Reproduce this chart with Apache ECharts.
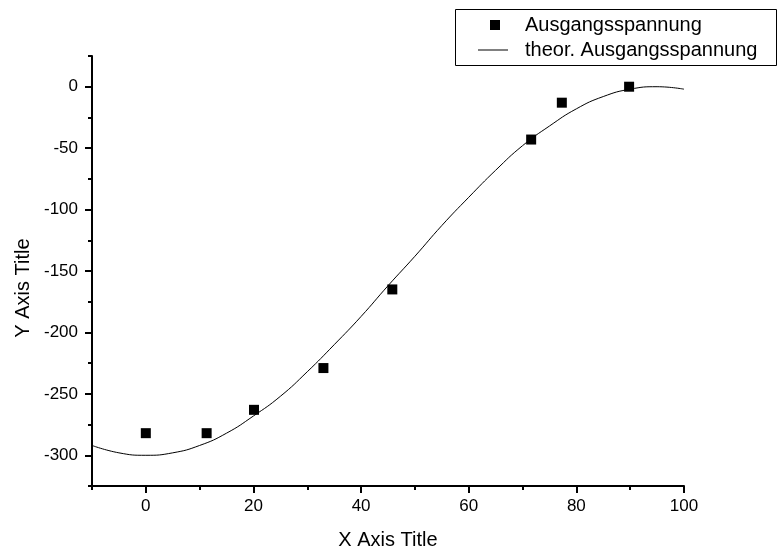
<!DOCTYPE html>
<html>
<head>
<meta charset="utf-8">
<script src="https://cdn.jsdelivr.net/npm/echarts@6/dist/echarts.min.js"></script>
<style>
html,body{margin:0;padding:0;background:#fff;}
#chart{width:781px;height:555px;}
</style>
</head>
<body>
<div id="chart"></div>
<script>
// Measured points
var measX = [0, 11.3, 20.1, 33, 45.8, 71.6, 77.3, 89.8];
var measY = [-282, -282, -263, -229, -165, -43, -13, 0];
// Theoretical curve
var theoX = [-10, -5, 0, 5, 10, 15, 20, 25, 30, 35, 40, 45, 50, 55, 60, 65, 70, 75, 80, 85, 90, 95, 100];
var theoY = [-292, -298, -300, -298, -292, -282, -268, -252, -232, -210, -187, -162, -138, -113, -90, -68, -48, -32, -18, -8, -2, 0, -2];
// Axis ticks
var xMajor = [0, 20, 40, 60, 80, 100];
var xMinor = [-10, 10, 30, 50, 70, 90];
var yMajor = [-300, -250, -200, -150, -100, -50, 0];
var yMinor = [-325, -275, -225, -175, -125, -75, -25, 25];
var seriesNames = ['Ausgangsspannung', 'theor. Ausgangsspannung'];

var FONT = 'Liberation Sans, Arial, Helvetica, sans-serif';
var chart = echarts.init(document.getElementById('chart'));

function pairs(xs, ys) { return xs.map(function (x, i) { return [x, ys[i]]; }); }

var axLine = { show: true, onZero: false, lineStyle: { color: '#000', width: 2 } };

chart.setOption({
  animation: false,
  backgroundColor: '#fff',
  textStyle: { fontFamily: FONT },
  grid: { left: 92, right: 97, top: 56, bottom: 64, containLabel: false },
  legend: [
    {
      data: [{ name: seriesNames[0], icon: 'rect' }],
      left: 490, top: 15, itemWidth: 10, itemHeight: 10, padding: 0,
      selectedMode: false,
      textStyle: { fontSize: 20, color: '#000', fontFamily: FONT, padding: [0, 0, 0, 20] }
    },
    {
      data: [{ name: seriesNames[1], icon: 'rect' }],
      left: 478, top: 40, itemWidth: 30, itemHeight: 1, padding: 0,
      selectedMode: false,
      itemStyle: { color: '#000' },
      textStyle: { fontSize: 20, color: '#000', fontFamily: FONT, padding: [0, 0, 0, 12] }
    }
  ],
  graphic: [{
    type: 'rect', left: 453, top: 7,
    shape: { width: 321, height: 56 },
    style: { fill: 'none', stroke: '#000', lineWidth: 1 }
  }],
  xAxis: [
    {
      type: 'value', min: -10, max: 100, interval: 10,
      axisLine: axLine,
      axisTick: { show: true, customValues: xMajor, length: 7, lineStyle: { color: '#000', width: 2 } },
      axisLabel: { customValues: xMajor, fontSize: 17, color: '#000', margin: 12, fontFamily: FONT },
      splitLine: { show: false },
      name: 'X Axis Title', nameLocation: 'middle', nameGap: 44,
      nameTextStyle: { fontSize: 20, color: '#000', fontFamily: FONT }
    },
    {
      type: 'value', min: -10, max: 100, interval: 10, position: 'bottom',
      axisLine: { show: false, onZero: false },
      axisTick: { show: true, customValues: xMinor, length: 4, lineStyle: { color: '#000', width: 2 } },
      axisLabel: { show: false },
      splitLine: { show: false }
    }
  ],
  yAxis: [
    {
      type: 'value', min: -325, max: 25, interval: 25,
      axisLine: axLine,
      axisTick: { show: true, customValues: yMajor, length: 7, lineStyle: { color: '#000', width: 2 } },
      axisLabel: { customValues: yMajor, fontSize: 17, color: '#000', margin: 14, fontFamily: FONT },
      splitLine: { show: false },
      name: 'Y Axis Title', nameLocation: 'middle', nameGap: 58,
      nameTextStyle: { fontSize: 20, color: '#000', fontFamily: FONT, padding: [0, 34, 0, 0] }
    },
    {
      type: 'value', min: -325, max: 25, interval: 25, position: 'left',
      axisLine: { show: false, onZero: false },
      axisTick: { show: true, customValues: yMinor, length: 4, lineStyle: { color: '#000', width: 2 } },
      axisLabel: { show: false },
      splitLine: { show: false }
    }
  ],
  series: [
    {
      name: seriesNames[0], type: 'scatter', xAxisIndex: 0, yAxisIndex: 0,
      symbol: 'rect', symbolSize: 10,
      itemStyle: { color: '#000', opacity: 1 },
      data: pairs(measX, measY), z: 3
    },
    {
      name: seriesNames[1], type: 'line', xAxisIndex: 0, yAxisIndex: 0,
      smooth: true, symbol: 'none', showSymbol: false,
      lineStyle: { color: '#000', width: 1 },
      itemStyle: { color: '#000' },
      data: pairs(theoX, theoY), z: 2
    }
  ]
});
</script>
</body>
</html>
